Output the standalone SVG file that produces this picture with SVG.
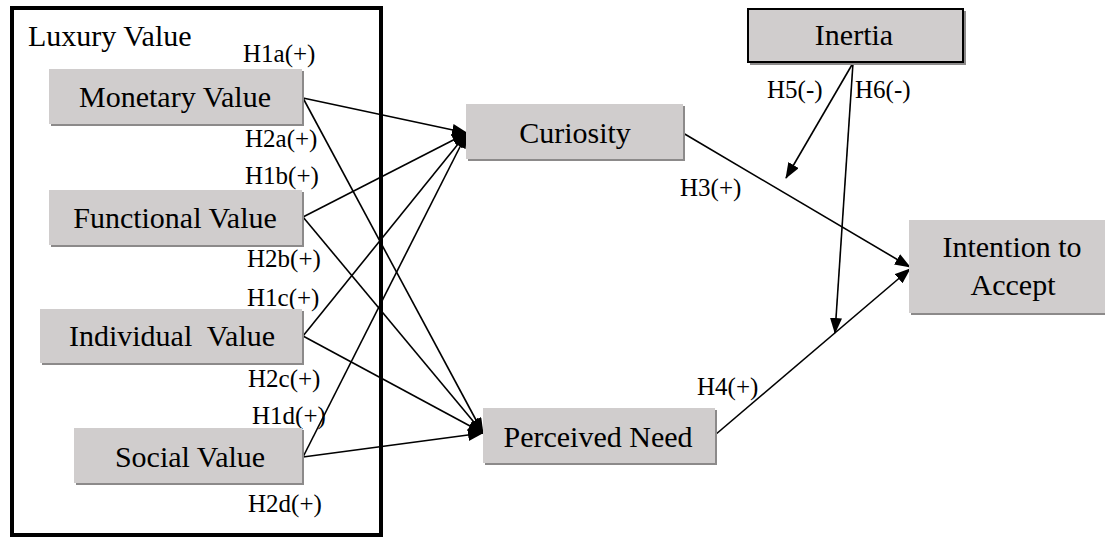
<svg xmlns="http://www.w3.org/2000/svg" width="1105" height="538" viewBox="0 0 1105 538" font-family="Liberation Serif, DejaVu Serif, serif">
<style>
.node{fill:#d0cdcd}
.shadow{fill:#8c8a8a}
.nt{font-size:30px;fill:#000;text-anchor:middle}
.lb{font-size:25px;fill:#000}
.edge{stroke:#000;stroke-width:1.6;fill:none;marker-end:url(#arr)}
</style>
<defs>
<marker id="arr" markerUnits="userSpaceOnUse" markerWidth="16" markerHeight="12" refX="15" refY="6" orient="auto">
<path d="M0,0 L16,6 L0,12 Z" fill="#000"/>
</marker>
</defs>
<rect width="1105" height="538" fill="#fff"/>
<g id="luxury-value">
<rect x="12" y="8" width="369" height="527" fill="none" stroke="#000" stroke-width="4"/>
<text class="nt" x="28" y="46" font-family="Liberation Serif, serif" style="text-anchor:start">Luxury Value</text>
</g>
<g id="connectors">
<line class="edge" x1="303" y1="98" x2="467" y2="133"/>
<line class="edge" x1="303" y1="98" x2="483" y2="433"/>
<line class="edge" x1="303" y1="217" x2="467" y2="133"/>
<line class="edge" x1="303" y1="217" x2="483" y2="433"/>
<line class="edge" x1="303" y1="336" x2="467" y2="133"/>
<line class="edge" x1="303" y1="336" x2="483" y2="433"/>
<line class="edge" x1="303" y1="457" x2="467" y2="133"/>
<line class="edge" x1="303" y1="457" x2="483" y2="433"/>
<line class="edge" x1="683" y1="133" x2="910" y2="267"/>
<line class="edge" x1="715" y1="435" x2="910" y2="269"/>
<line class="edge" x1="853" y1="63" x2="786" y2="178"/>
<line class="edge" x1="853" y1="63" x2="835" y2="333"/>
</g>
<g id="labels" font-family="Liberation Serif, serif">
<text class="lb" x="243" y="62">H1a(+)</text>
<text class="lb" x="245" y="147">H2a(+)</text>
<text class="lb" x="245" y="184">H1b(+)</text>
<text class="lb" x="247" y="267">H2b(+)</text>
<text class="lb" x="247" y="306">H1c(+)</text>
<text class="lb" x="248" y="387">H2c(+)</text>
<text class="lb" x="252" y="424">H1d(+)</text>
<text class="lb" x="248" y="512">H2d(+)</text>
<text class="lb" x="680" y="196">H3(+)</text>
<text class="lb" x="697" y="395">H4(+)</text>
<text class="lb" x="767" y="98">H5(-)</text>
<text class="lb" x="855" y="98">H6(-)</text>
</g>
<g id="monetary-value" font-family="Liberation Serif, serif">
<rect class="shadow" x="51" y="71" width="253" height="55"/>
<rect class="node" x="49" y="69" width="253" height="55"/>
<text class="nt" x="175" y="107">Monetary Value</text>
</g>
<g id="functional-value" font-family="Liberation Serif, serif">
<rect class="shadow" x="51" y="192" width="253" height="55"/>
<rect class="node" x="49" y="190" width="253" height="55"/>
<text class="nt" x="175" y="228">Functional Value</text>
</g>
<g id="individual-value" font-family="Liberation Serif, serif">
<rect class="shadow" x="42" y="311" width="262" height="54"/>
<rect class="node" x="40" y="309" width="262" height="54"/>
<text class="nt" x="172" y="346" xml:space="preserve" style="white-space:pre">Individual  Value</text>
</g>
<g id="social-value" font-family="Liberation Serif, serif">
<rect class="shadow" x="76" y="430" width="228" height="55"/>
<rect class="node" x="74" y="428" width="228" height="55"/>
<text class="nt" x="190" y="467">Social Value</text>
</g>
<g id="curiosity" font-family="Liberation Serif, serif">
<rect class="shadow" x="468" y="106" width="217" height="55"/>
<rect class="node" x="466" y="104" width="217" height="55"/>
<text class="nt" x="575" y="143">Curiosity</text>
</g>
<g id="perceived-need" font-family="Liberation Serif, serif">
<rect class="shadow" x="485" y="410" width="232" height="55"/>
<rect class="node" x="483" y="408" width="232" height="55"/>
<text class="nt" x="598" y="447">Perceived Need</text>
</g>
<g id="inertia" font-family="Liberation Serif, serif">
<rect class="shadow" x="750" y="11" width="216" height="54"/>
<rect class="node" x="748" y="9" width="215" height="53" stroke="#000" stroke-width="2"/>
<text class="nt" x="854" y="45">Inertia</text>
</g>
<g id="intention-to-accept" font-family="Liberation Serif, serif">
<rect class="shadow" x="911" y="222" width="196" height="93"/>
<rect class="node" x="909" y="220" width="196" height="93"/>
<text class="nt" x="1012" y="257">Intention to</text>
<text class="nt" x="1013" y="295">Accept</text>
</g>
</svg>
